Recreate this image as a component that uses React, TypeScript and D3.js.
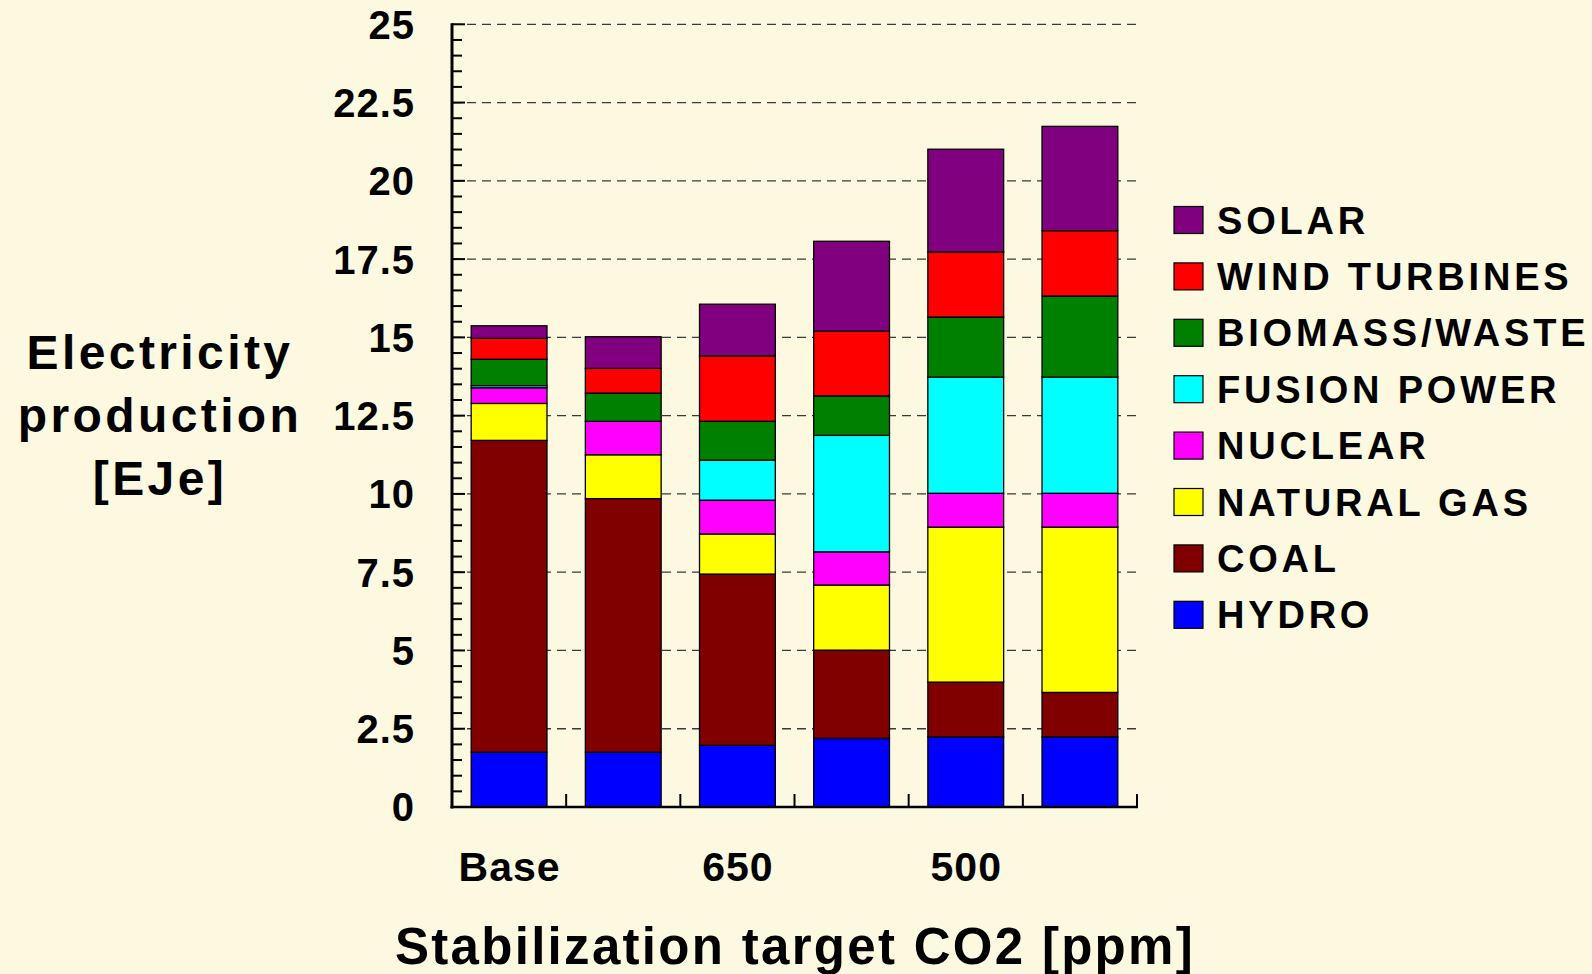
import React from "react";
import * as d3 from "d3";

const categories = ["Base", "", "650", "", "500", ""];
const seriesNames = ["HYDRO", "COAL", "NATURAL GAS", "NUCLEAR", "FUSION POWER", "BIOMASS/WASTE", "WIND TURBINES", "SOLAR"];
const seriesColors = ["#0000FF", "#800000", "#FFFF00", "#FF00FF", "#00FFFF", "#008000", "#FF0000", "#800080"];

const hydro = [1.75, 1.75, 1.97, 2.19, 2.24, 2.24];
const coal = [9.96, 8.10, 5.47, 2.82, 1.75, 1.42];
const naturalGas = [1.18, 1.40, 1.28, 2.08, 4.95, 5.28];
const nuclear = [0.50, 1.07, 1.08, 1.06, 1.08, 1.08];
const fusion = [0.07, 0.0, 1.28, 3.72, 3.71, 3.71];
const biomass = [0.84, 0.90, 1.24, 1.26, 1.92, 2.59];
const wind = [0.67, 0.79, 2.09, 2.07, 2.08, 2.09];
const solar = [0.40, 1.01, 1.65, 2.87, 3.28, 3.33];

const yMajorTicks = [0, 2.5, 5, 7.5, 10, 12.5, 15, 17.5, 20, 22.5, 25];
const yTickLabels = ["0", "2.5", "5", "7.5", "10", "12.5", "15", "17.5", "20", "22.5", "25"];

const W = 1592;
const H = 974;
const FONT = "'Liberation Sans', Arial, Helvetica, sans-serif";
const BG = "#FDF9E1";

export default function App() {
  const allSeries = [hydro, coal, naturalGas, nuclear, fusion, biomass, wind, solar];
  const rows = categories.map((c, i) => {
    const r: any = { idx: i };
    seriesNames.forEach((s, k) => (r[s] = allSeries[k][i]));
    return r;
  });
  const stacked = d3.stack<any>().keys(seriesNames)(rows);

  const x0 = 452;
  const x1 = 1137;
  const yBottom = 807;
  const yTop = 24.3;
  const x = d3
    .scaleBand<number>()
    .domain(categories.map((_, i) => i))
    .range([x0, x1])
    .paddingInner(0.336)
    .paddingOuter(0.168);
  const y = d3.scaleLinear().domain([0, 25]).range([yBottom, yTop]);
  const step = x.step();
  const minorTicks = d3.range(0, 25.001, 0.5).filter((v) => Math.abs(v / 2.5 - Math.round(v / 2.5)) > 1e-6);
  const bandEdges = categories.map((_, i) => (x(i) as number) + x.bandwidth() + (step - x.bandwidth()) / 2);

  const legendOrder = [...seriesNames.keys()].reverse();

  return (
    <svg
      width={W}
      height={H}
      style={{ position: "absolute", left: 0, top: 0, display: "block" }}
      fontFamily={FONT}
    >
      <rect x={0} y={0} width={W} height={H} fill={BG} />
      {/* gridlines */}
      {yMajorTicks
        .filter((v) => v > 0)
        .map((v) => (
          <line
            key={"g" + v}
            x1={x0}
            x2={x1}
            y1={y(v)}
            y2={y(v)}
            stroke="#3a3a3a"
            strokeWidth={1.3}
            strokeDasharray="9,6"
          />
        ))}
      {/* bars */}
      {stacked.map((layer, k) => (
        <g key={layer.key} fill={seriesColors[k]}>
          {layer.map((d, i) =>
            d[1] - d[0] > 0 ? (
              <rect
                key={i}
                x={x(i)}
                width={x.bandwidth()}
                y={y(d[1])}
                height={y(d[0]) - y(d[1])}
                stroke="#000"
                strokeWidth={1.3}
              />
            ) : null
          )}
        </g>
      ))}
      {/* y axis */}
      <line x1={x0} x2={x0} y1={yTop - 1} y2={yBottom + 1.5} stroke="#000" strokeWidth={3} />
      {yMajorTicks.map((v) => (
        <line key={"mt" + v} x1={x0} x2={x0 + 13} y1={y(v)} y2={y(v)} stroke="#000" strokeWidth={2} />
      ))}
      {minorTicks.map((v) => (
        <line key={"nt" + v} x1={x0} x2={x0 + 10} y1={y(v)} y2={y(v)} stroke="#000" strokeWidth={2} />
      ))}
      {yMajorTicks.map((v, i) => (
        <text
          key={"yl" + v}
          x={415}
          y={y(v)}
          dy="0.36em"
          textAnchor="end"
          fontSize={40}
          fontWeight="bold"
          letterSpacing={1}
        >
          {yTickLabels[i]}
        </text>
      ))}
      {/* x axis */}
      <line x1={x0 - 1.5} x2={x1 + 1} y1={yBottom} y2={yBottom} stroke="#000" strokeWidth={2.5} />
      {bandEdges.map((bx, i) => (
        <line key={"xt" + i} x1={bx} x2={bx} y1={yBottom} y2={yBottom - 13} stroke="#000" strokeWidth={2} />
      ))}
      {categories.map((c, i) =>
        c ? (
          <text
            key={"xl" + i}
            x={(x(i) as number) + x.bandwidth() / 2 + 0.5}
            y={881}
            textAnchor="middle"
            fontSize={41}
            fontWeight="bold"
            letterSpacing={1}
          >
            {c}
          </text>
        ) : null
      )}
      {/* axis titles */}
      <text x={795} y={964} textAnchor="middle" fontSize={51} fontWeight="bold" letterSpacing={2.3}>
        Stabilization target CO2 [ppm]
      </text>
      {["Electricity", "production", "[EJe]"].map((t, i) => (
        <text
          key={t}
          x={160}
          y={369 + i * 63}
          textAnchor="middle"
          fontSize={48}
          fontWeight="bold"
          letterSpacing={3.4}
        >
          {t}
        </text>
      ))}
      {/* legend */}
      {legendOrder.map((k, j) => (
        <g key={"lg" + k} transform={`translate(1174, ${206.5 + j * 56.4})`}>
          <rect x={0} y={0} width={29} height={27} fill={seriesColors[k]} stroke="#000" strokeWidth={1.2} />
          <text x={43} y={27} fontSize={38} fontWeight="bold" letterSpacing={3.8}>
            {seriesNames[k]}
          </text>
        </g>
      ))}
    </svg>
  );
}
